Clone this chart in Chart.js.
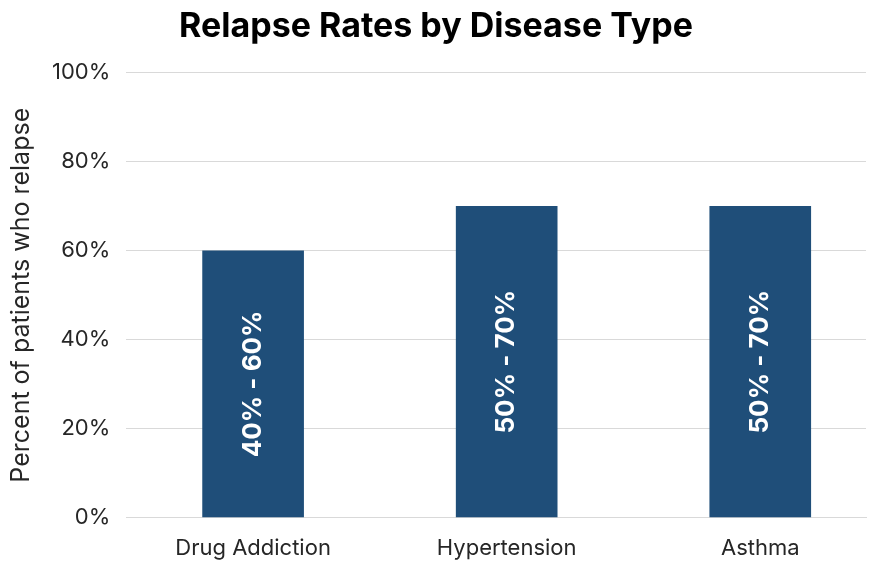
<!DOCTYPE html>
<html lang="en">

<head>
    <meta charset="UTF-8">
    <title>Relapse Rates by Disease Type</title>
    <script src="https://cdn.jsdelivr.net/npm/chart.js"></script>
    <style>
        body { margin: 0; background: #fff; }
        .box { width: 879px; height: 562px; }
    </style>
</head>

<body>
    <div class="box">
        <canvas id="grafico"></canvas>
    </div>

<script>
    // dados
    const doencas = ['Drug Addiction', 'Hypertension', 'Asthma'];
    const recaida = [60, 70, 70];
    const faixas = ['40% - 60%', '50% - 70%', '50% - 70%'];
    const ticksY = [0, 20, 40, 60, 80, 100];

    const fonte = "Inter, 'Open Sans', sans-serif";

    // escreve a faixa girada dentro de cada barra
    const textoNasBarras = {
        id: 'textoNasBarras',
        afterDatasetsDraw(chart) {
            const ctx = chart.ctx;
            const meta = chart.getDatasetMeta(0);
            meta.data.forEach((bar, i) => {
                const p = bar.getProps(['x', 'y', 'base'], true);
                ctx.save();
                ctx.translate(p.x, (p.y + p.base) / 2);
                ctx.rotate(-Math.PI / 2);
                ctx.fillStyle = '#ffffff';
                ctx.font = 'bold 26px ' + fonte;
                ctx.textAlign = 'center';
                ctx.textBaseline = 'middle';
                ctx.fillText(faixas[i], 0, 0);
                ctx.restore();
            });
        }
    };

    var ctx = document.getElementById('grafico').getContext('2d');
    var myChart = new Chart(ctx, {
        type: 'bar',
        data: {
            datasets: [{
                data: recaida.map((v, i) => ({ x: i, y: v })),
                backgroundColor: '#1F4E79',
                barThickness: 101
            }]
        },
        options: {
            responsive: true,
            maintainAspectRatio: false,
            animation: false,
            layout: {
                padding: { left: 6, right: 13, top: 0, bottom: -10 }
            },
            plugins: {
                legend: { display: false },
                tooltip: { enabled: false },
                title: {
                    display: true,
                    text: 'Relapse Rates by Disease Type',
                    color: '#000000',
                    font: { family: fonte, size: 34, weight: 'bold' },
                    padding: { top: 6, bottom: 26 }
                }
            },
            scales: {
                x: {
                    type: 'linear',
                    offset: false,
                    min: -0.5,
                    max: 2.417,
                    afterBuildTicks: s => { s.ticks = doencas.map((d, i) => ({ value: i })); },
                    grid: { display: false },
                    border: { color: '#d9d9d9' },
                    ticks: {
                        color: '#262626',
                        font: { family: fonte, size: 22 },
                        padding: 10,
                        callback: v => doencas[v]
                    }
                },
                y: {
                    min: 0,
                    max: 100,
                    afterBuildTicks: s => { s.ticks = ticksY.map(v => ({ value: v })); },
                    grid: { color: '#d9d9d9', drawTicks: false },
                    border: { display: false },
                    ticks: {
                        color: '#262626',
                        font: { family: fonte, size: 22 },
                        padding: 16,
                        callback: v => v + '%'
                    },
                    title: {
                        display: true,
                        text: 'Percent of patients who relapse',
                        color: '#262626',
                        font: { family: fonte, size: 25 },
                        padding: { top: 0, bottom: 0 }
                    }
                }
            }
        },
        plugins: [textoNasBarras]
    });
</script>

</body>

</html>
